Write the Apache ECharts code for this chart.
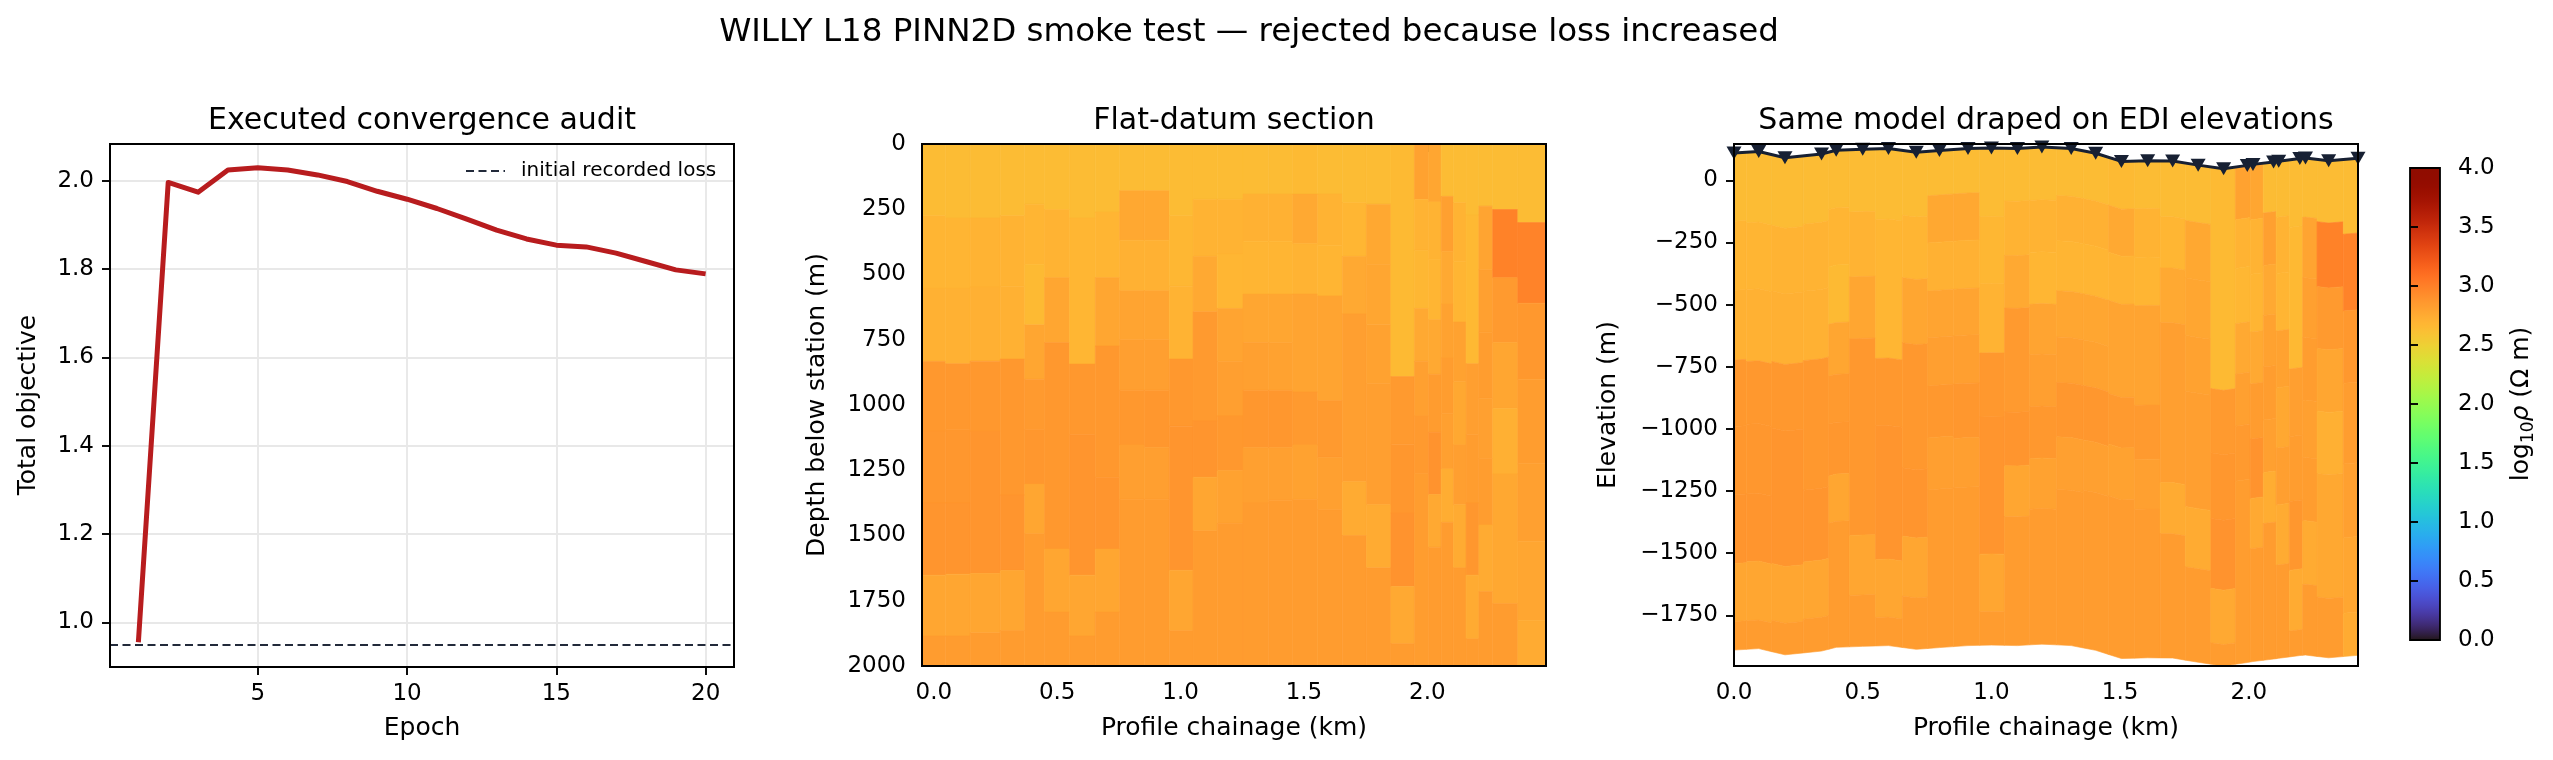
<!DOCTYPE html>
<html>
<head>
<meta charset="utf-8">
<script src="https://cdn.jsdelivr.net/npm/echarts@6.0.0/dist/echarts.min.js"></script>
<style>html,body{margin:0;padding:0;background:#fff}#chart{width:2553px;height:760px}</style>
</head>
<body>
<div id="chart"></div>
<script>
// ---------------- DATA ----------------
const epochs = [1,2,3,4,5,6,7,8,9,10,11,12,13,14,15,16,17,18,19,20];
const totalObjective = [0.955,1.996,1.974,2.024,2.029,2.024,2.013,1.998,1.976,1.958,1.937,1.913,1.888,1.868,1.854,1.850,1.836,1.817,1.798,1.789];
const initialRecordedLoss = 0.955;
const epochTicks = [5,10,15,20];
const objectiveTicks = [1.0,1.2,1.4,1.6,1.8,2.0];

const stationKm = [0,0.096,0.198,0.34,0.397,0.5,0.6,0.708,0.798,0.909,1.0,1.101,1.196,1.31,1.405,1.505,1.607,1.704,1.803,1.902,1.994,2.016,2.096,2.116,2.198,2.22,2.31,2.424];
const stationElev = [110,116,91,106,121,125,128,113,120,128,130,128,134,128,109,76,79,78,61,46,60,64,74,77,88,90,79,89];
const maxDepth = 2000;
const elevAxisMin = -1954, elevAxisMax = 146;

// per station column: interior layer boundaries (m below station) and log10 rho of each layer
const layerBreaks = [
  [275,552,833,1100,1375,1652,1885],
  [284,552,842,1094,1375,1648,1885],
  [284,548,832,1100,1645,1873],
  [275,545,824,1345,1634,1864],
  [231,462,693,901,1094,1303,1493],
  [251,512,761,1552,1793],
  [284,843,1114,1652,1885],
  [261,512,774,1277,1552,1793],
  [179,369,562,750,944,1153,1362],
  [179,369,562,750,944,1163,1362],
  [275,545,824,1081,1633,1865],
  [212,431,643,1061,1277,1482],
  [212,421,630,833,1042,1251,1454],
  [192,374,575,761,944,1163,1375],
  [192,374,575,761,944,1163,1365],
  [192,382,575,950,1153,1362],
  [192,388,582,983,1201,1401],
  [225,431,651,1294,1500],
  [231,462,693,918,1382,1624],
  [891,1150,1414,1695,1914],
  [212,408,630,833,1042,1264],
  [222,441,673,882,1104,1343,1545],
  [201,412,613,820,1033,1245,1450],
  [225,451,682,911,1153,1382,1624],
  [272,842,1114,1375,1652,1896],
  [238,482,722,974,1205,1460,1715],
  [251,512,761,1013,1264,1761],
  [301,610,901,1225,1522,1826]
];
const layerLogRho = [
  [2.64,2.69,2.71,2.86,2.87,2.88,2.78,2.84],
  [2.64,2.69,2.71,2.86,2.87,2.88,2.78,2.84],
  [2.64,2.70,2.72,2.86,2.88,2.78,2.84],
  [2.64,2.70,2.71,2.86,2.88,2.78,2.84],
  [2.64,2.69,2.65,2.78,2.85,2.87,2.78,2.84],
  [2.64,2.70,2.78,2.86,2.78,2.84],
  [2.64,2.68,2.86,2.88,2.78,2.84],
  [2.64,2.69,2.78,2.86,2.88,2.78,2.84],
  [2.64,2.77,2.71,2.79,2.82,2.86,2.82,2.84],
  [2.64,2.77,2.71,2.79,2.82,2.87,2.82,2.84],
  [2.64,2.67,2.70,2.86,2.88,2.78,2.84],
  [2.64,2.70,2.76,2.85,2.88,2.78,2.84],
  [2.64,2.70,2.68,2.79,2.82,2.86,2.80,2.84],
  [2.64,2.71,2.69,2.78,2.81,2.87,2.81,2.84],
  [2.64,2.71,2.69,2.78,2.80,2.87,2.81,2.84],
  [2.65,2.76,2.70,2.79,2.85,2.80,2.84],
  [2.64,2.70,2.69,2.79,2.85,2.81,2.84],
  [2.64,2.68,2.76,2.82,2.75,2.84],
  [2.64,2.77,2.78,2.80,2.82,2.75,2.84],
  [2.65,2.85,2.87,2.89,2.76,2.84],
  [2.80,2.70,2.67,2.76,2.81,2.85,2.83],
  [2.78,2.70,2.69,2.76,2.84,2.89,2.76,2.84],
  [2.64,2.81,2.76,2.80,2.83,2.81,2.74,2.84],
  [2.64,2.70,2.69,2.80,2.77,2.82,2.75,2.84],
  [2.64,2.66,2.82,2.83,2.87,2.75,2.84],
  [2.64,2.79,2.81,2.83,2.81,2.83,2.75,2.84],
  [2.64,2.99,2.85,2.78,2.72,2.77,2.84],
  [2.64,2.98,2.86,2.83,2.81,2.78,2.75]
];
const chainageTicks = [0,0.5,1.0,1.5,2.0];
const depthTicksInterval = 250;
const elevationTicks = [-1750,-1500,-1250,-1000,-750,-500,-250,0];
const colorbarMin = 0, colorbarMax = 4;

// ---------------- HELPERS ----------------
const FONT = 'DejaVu Sans';
// turbo colormap (polynomial approximation, blue lifted slightly in the orange range to match the table)
function turbo(t) {
  t = Math.min(1, Math.max(0, t));
  const t2 = t*t, t3 = t2*t, t4 = t3*t, t5 = t4*t;
  const r = 0.13572138 + 4.61539260*t - 42.66032258*t2 + 132.13108234*t3 - 152.94239396*t4 + 59.28637943*t5;
  const g = 0.09140261 + 2.19418839*t + 4.84296658*t2 - 14.18503333*t3 + 4.27729857*t4 + 2.82956604*t5;
  let b = 0.10667330 + 12.64194608*t - 60.58204836*t2 + 110.36276771*t3 - 89.90310912*t4 + 27.34824973*t5;
  const d = (t - 0.7) / 0.15;
  if (Math.abs(d) < 1) b += 0.055 * 0.5 * (1 + Math.cos(Math.PI * d));
  const c = v => Math.round(255 * Math.min(1, Math.max(0, v)));
  return 'rgb(' + c(r) + ',' + c(g) + ',' + c(b) + ')';
}
const NSTOP = 128;
const turboColors = [];
for (let i = 0; i <= NSTOP; i++) turboColors.push(turbo(i / NSTOP));

// mesh edges (midpoints between stations)
const n = stationKm.length;
const edges = [stationKm[0] - (stationKm[1] - stationKm[0]) / 2];
for (let i = 0; i < n - 1; i++) edges.push((stationKm[i] + stationKm[i + 1]) / 2);
edges.push(stationKm[n - 1] + (stationKm[n - 1] - stationKm[n - 2]) / 2);

const flatCells = [], drapedCells = [];
for (let i = 0; i < n; i++) {
  const tops = [0].concat(layerBreaks[i]);
  const bots = layerBreaks[i].concat([maxDepth]);
  const xa = i === 0 ? stationKm[0] : edges[i];
  const ea = i === 0 ? stationElev[0] : (stationElev[i - 1] + stationElev[i]) / 2;
  const xb = i === n - 1 ? stationKm[n - 1] : edges[i + 1];
  const eb = i === n - 1 ? stationElev[n - 1] : (stationElev[i] + stationElev[i + 1]) / 2;
  for (let k = 0; k < tops.length; k++) {
    const v = layerLogRho[i][k];
    flatCells.push([v, edges[i], edges[i + 1], tops[k], bots[k]]);
    drapedCells.push([v, xa, stationKm[i], xb, ea, stationElev[i], eb, tops[k], bots[k]]);
  }
}

// ---------------- LAYOUT ----------------
const G1 = {left: 110, top: 144, width: 624, height: 523};
const G2 = {left: 922, top: 144, width: 624, height: 522};
const G3 = {left: 1734, top: 144, width: 624, height: 522};
const GC = {left: 2410, top: 168, width: 30, height: 472};

const tickStyle = {show: true, length: 8, lineStyle: {color: '#000', width: 1.9}};
const labelStyle = {color: '#000', fontSize: 23, fontFamily: FONT, margin: 16};
const minus = s => String(s).replace('-', '\u2212');

function baseAxis(extra) {
  return Object.assign({
    type: 'value',
    axisLine: {show: false},
    splitLine: {show: false}
  }, extra);
}

const chart = echarts.init(document.getElementById('chart'), null, {renderer: 'canvas', width: 2553, height: 760});

function frame(g, lw) {
  return {type: 'rect', z: 100, silent: true,
    shape: {x: g.left, y: g.top, width: g.width, height: g.height},
    style: {fill: null, stroke: '#000', lineWidth: lw}};
}
function txt(text, x, y, size, rot) {
  return {type: 'text', x: x, y: y, rotation: rot || 0, z: 100, silent: true,
    style: {text: text, fill: '#000', font: size + 'px "' + FONT + '"',
      align: 'center', verticalAlign: 'middle', textAlign: 'center', textVerticalAlign: 'middle'}};
}

const option = {
  animation: false,
  backgroundColor: '#fff',
  textStyle: {fontFamily: FONT},
  grid: [
    Object.assign({outerBoundsMode: 'none', containLabel: false}, G1),
    Object.assign({outerBoundsMode: 'none', containLabel: false}, G2),
    Object.assign({outerBoundsMode: 'none', containLabel: false}, G3),
    Object.assign({outerBoundsMode: 'none', containLabel: false, show: true, borderWidth: 0,
      backgroundColor: {type: 'linear', x: 0, y: 1, x2: 0, y2: 0,
        colorStops: turboColors.map((c, i) => ({offset: i / NSTOP, color: c}))}}, GC)
  ],
  xAxis: [
    baseAxis({gridIndex: 0, min: 0.05, max: 20.95,
      axisTick: Object.assign({customValues: epochTicks}, tickStyle),
      axisLabel: Object.assign({customValues: epochTicks, formatter: v => String(v)}, labelStyle),
      splitLine: {show: true, lineStyle: {color: '#e8e8e8', width: 1.9}}}),
    baseAxis({gridIndex: 1, min: edges[0], max: edges[edges.length - 1],
      axisTick: Object.assign({customValues: chainageTicks}, tickStyle),
      axisLabel: Object.assign({customValues: chainageTicks, formatter: v => v.toFixed(1)}, labelStyle)}),
    baseAxis({gridIndex: 2, min: stationKm[0], max: stationKm[n - 1],
      axisTick: Object.assign({customValues: chainageTicks}, tickStyle),
      axisLabel: Object.assign({customValues: chainageTicks, formatter: v => v.toFixed(1)}, labelStyle)}),
    baseAxis({gridIndex: 3, min: 0, max: 1, show: false})
  ],
  yAxis: [
    baseAxis({gridIndex: 0, min: 0.899, max: 2.083,
      axisTick: Object.assign({customValues: objectiveTicks}, tickStyle),
      axisLabel: Object.assign({customValues: objectiveTicks, formatter: v => v.toFixed(1)}, labelStyle),
      splitLine: {show: true, lineStyle: {color: '#e8e8e8', width: 1.9}}}),
    baseAxis({gridIndex: 1, min: 0, max: maxDepth, interval: depthTicksInterval, inverse: true,
      axisTick: tickStyle,
      axisLabel: Object.assign({formatter: v => String(v)}, labelStyle)}),
    baseAxis({gridIndex: 2, min: elevAxisMin, max: elevAxisMax,
      axisTick: Object.assign({customValues: elevationTicks}, tickStyle),
      axisLabel: Object.assign({customValues: elevationTicks, formatter: v => minus(v)}, labelStyle)}),
    baseAxis({gridIndex: 3, min: colorbarMin, max: colorbarMax, interval: 0.5, position: 'right',
      axisTick: tickStyle,
      axisLabel: Object.assign({formatter: v => v.toFixed(1)}, labelStyle, {margin: 18})})
  ],
  visualMap: [{
    type: 'continuous', show: false, min: colorbarMin, max: colorbarMax, dimension: 0,
    seriesIndex: [2, 3], inRange: {color: turboColors}
  }],
  legend: {
    show: true, selectedMode: false, data: [{name: 'initial recorded loss'}],
    left: 465, top: 161, itemWidth: 39, itemHeight: 14, padding: 0,
    itemStyle: {color: 'rgba(0,0,0,0)', borderWidth: 0, opacity: 0},
    textStyle: {fontSize: 20, fontFamily: FONT, color: '#000', padding: [0, 0, 0, 11]}
  },
  series: [
    {
      name: 'Total objective', type: 'line', xAxisIndex: 0, yAxisIndex: 0,
      data: epochs.map((e, i) => [e, totalObjective[i]]),
      symbol: 'none', z: 5,
      lineStyle: {color: '#b81c1e', width: 5, join: 'round'}, itemStyle: {color: '#b81c1e'}
    },
    {
      name: 'initial recorded loss', type: 'line', xAxisIndex: 0, yAxisIndex: 0,
      data: [], symbol: 'none', z: 4,
      lineStyle: {color: '#222a3a', width: 2.2, type: [8, 4.5]}, itemStyle: {color: '#222a3a'},
      markLine: {silent: true, symbol: 'none', label: {show: false},
        lineStyle: {color: '#222a3a', width: 2.2, type: [8, 4.5]},
        data: [{yAxis: initialRecordedLoss}]}
    },
    {
      name: 'flat', type: 'custom', xAxisIndex: 1, yAxisIndex: 1, data: flatCells,
      encode: {x: [1, 2], y: [3, 4]}, silent: true,
      renderItem: function (params, api) {
        const p1 = api.coord([api.value(1), api.value(3)]);
        const p2 = api.coord([api.value(2), api.value(4)]);
        const col = api.visual('color');
        return {type: 'rect',
          shape: {x: Math.min(p1[0], p2[0]), y: Math.min(p1[1], p2[1]),
            width: Math.abs(p2[0] - p1[0]), height: Math.abs(p2[1] - p1[1])},
          style: {fill: col, stroke: col, lineWidth: 0.6}};
      }
    },
    {
      name: 'draped', type: 'custom', xAxisIndex: 2, yAxisIndex: 2, data: drapedCells,
      encode: {x: [1, 3], y: [4, 6]}, silent: true,
      renderItem: function (params, api) {
        const xa = api.value(1), xc = api.value(2), xb = api.value(3);
        const ea = api.value(4), ec = api.value(5), eb = api.value(6);
        const dt = api.value(7), db = api.value(8);
        const pts = [
          api.coord([xa, ea - dt]), api.coord([xc, ec - dt]), api.coord([xb, eb - dt]),
          api.coord([xb, eb - db]), api.coord([xc, ec - db]), api.coord([xa, ea - db])
        ];
        const col = api.visual('color');
        return {type: 'polygon', shape: {points: pts},
          style: {fill: col, stroke: col, lineWidth: 0.6}};
      }
    },
    {
      name: 'stations', type: 'line', xAxisIndex: 2, yAxisIndex: 2,
      data: stationKm.map((x, i) => [x, stationElev[i]]),
      symbol: 'triangle', symbolRotate: 180, symbolSize: [15, 13], showSymbol: true, z: 10,
      clip: false,
      lineStyle: {color: '#172033', width: 3}, itemStyle: {color: '#172033'}
    }
  ],
  graphic: [
    frame(G1, 2), frame(G2, 2), frame(G3, 2), frame(GC, 1.8),
    txt('WILLY L18 PINN2D smoke test \u2014 rejected because loss increased', 1249, 33, 32.5),
    txt('Executed convergence audit', (G1.left + G1.left + G1.width) / 2, 121, 30),
    txt('Flat-datum section', (G2.left + G2.left + G2.width) / 2, 121, 30),
    txt('Same model draped on EDI elevations', (G3.left + G3.left + G3.width) / 2, 121, 30),
    txt('Epoch', (G1.left + G1.left + G1.width) / 2, 728, 25),
    txt('Profile chainage (km)', (G2.left + G2.left + G2.width) / 2, 728, 25),
    txt('Profile chainage (km)', (G3.left + G3.left + G3.width) / 2, 728, 25),
    txt('Total objective', 28, 405, 25, Math.PI / 2),
    txt('Depth below station (m)', 817, 405, 25, Math.PI / 2),
    txt('Elevation (m)', 1608, 405, 25, Math.PI / 2),
    {type: 'text', x: 2521, y: 404, rotation: Math.PI / 2, z: 100, silent: true,
      style: {text: '{n|log}{s|10}{r|\u03C1}{n| (\u03A9 m)}', fill: '#000',
        align: 'center', verticalAlign: 'middle', textAlign: 'center', textVerticalAlign: 'middle',
        rich: {
          n: {fontSize: 25, fontFamily: FONT, lineHeight: 32, verticalAlign: 'middle', fill: '#000'},
          s: {fontSize: 17, fontFamily: FONT, lineHeight: 17, verticalAlign: 'bottom', fill: '#000'},
          r: {fontSize: 25, fontFamily: FONT, fontStyle: 'italic', lineHeight: 32, verticalAlign: 'middle', fill: '#000'}
        }}}
  ]
};
chart.setOption(option);
</script>
</body>
</html>
